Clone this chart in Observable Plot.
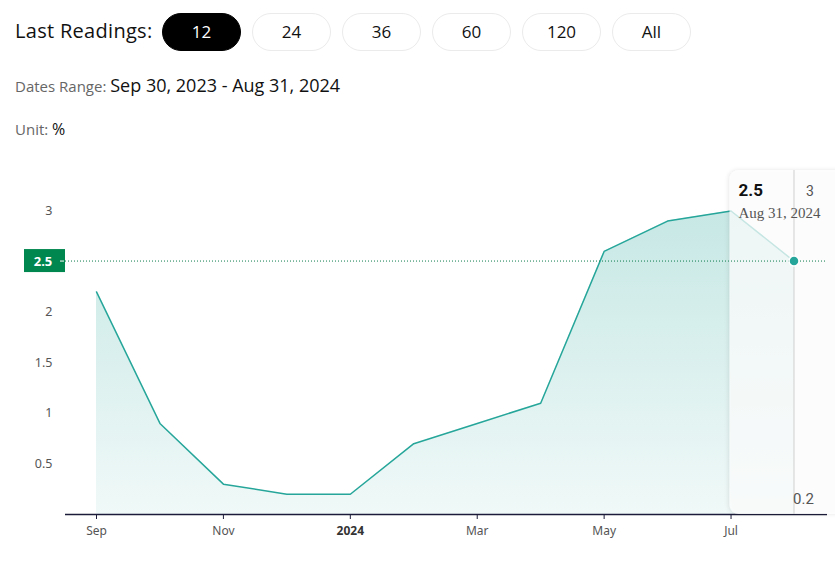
<!DOCTYPE html>
<html>
<head>
<meta charset="utf-8">
<script src="https://cdn.jsdelivr.net/npm/d3@7"></script>
<script src="https://cdn.jsdelivr.net/npm/@observablehq/plot@0.6"></script>
<style>
  body { margin:0; background:#fff; font-family: "Open Sans", Roboto, sans-serif; width:835px; height:573px; overflow:hidden; position:relative; }
  .hdr { position:absolute; left:15px; top:17px; font-size:20px; letter-spacing:0.3px; color:#111; }
  .btn { position:absolute; top:13px; width:77px; height:36px; border:1px solid #ebebeb; border-radius:19px; text-align:center; line-height:36px; font-size:17px; color:#111; box-sizing:content-box; }
  .btn.active { background:#000; color:#fff; border-color:#000; }
  .lbl { color:#666; font-size:15px; }
  .val { color:#111; font-size:18px; }
  #chart { position:absolute; left:0; top:150px; }
</style>
</head>
<body>
<div class="hdr">Last Readings:</div>
<div id="btns"></div>
<div style="position:absolute;left:15px;top:73px;"><span class="lbl">Dates Range: </span><span class="val">Sep 30, 2023 - Aug 31, 2024</span></div>
<div style="position:absolute;left:15px;top:118px;"><span class="lbl">Unit: </span><span class="val" style="font-size:16px">%</span></div>
<div id="chart"></div>
<script>
const buttons = ["12", "24", "36", "60", "120", "All"];
const dates = ["2023-09-30","2023-10-31","2023-11-30","2023-12-31","2024-01-31","2024-02-29","2024-03-31","2024-04-30","2024-05-31","2024-06-30","2024-07-31","2024-08-31"];
const values = [2.2, 0.9, 0.3, 0.2, 0.2, 0.7, 0.9, 1.1, 2.6, 2.9, 3.0, 2.5];
const tickDates = ["2023-09-30","2023-11-30","2024-01-31","2024-03-31","2024-05-31","2024-07-31"];
const tickLabels = ["Sep","Nov","2024","Mar","May","Jul"];
const yTicks = [0.5, 1, 1.5, 2, 3];
const current = {date: "2024-08-31", value: 2.5, label: "Aug 31, 2024"};
const rangeLabels = {max: "3", min: "0.2"};

const btnBox = document.getElementById("btns");
buttons.forEach((b, i) => {
  const d = document.createElement("div");
  d.className = "btn" + (i === 0 ? " active" : "");
  d.style.left = (162 + i * 90) + "px";
  d.textContent = b;
  btnBox.appendChild(d);
});

const data = dates.map((d, i) => ({date: d, value: values[i]}));
const teal = "#26a69a";

const plot = Plot.plot({
  width: 835,
  height: 423,
  marginTop: 20,
  marginBottom: 59,
  marginLeft: 65,
  marginRight: 8,
  style: {fontFamily: "'Noto Sans', sans-serif", fontSize: "12px", color: "#555", background: "transparent"},
  x: {type: "point", domain: dates, padding: 0, round: false, insetLeft: 31, insetRight: 33, label: null},
  y: {domain: [0, 3.4], label: null},
  marks: [
    Plot.areaY(data, {x: "date", y: "value", fill: "url(#areaGrad)"}),
    Plot.lineY(data, {x: "date", y: "value", stroke: teal, strokeWidth: 1.5}),
    Plot.ruleY([0], {stroke: "#1c1c3a", strokeWidth: 1.5}),
    Plot.axisX({ticks: tickDates, tickFormat: d => tickLabels[tickDates.indexOf(d)], tickSize: 5, tickPadding: 7, stroke: "#1c1c3a", fill: "#555", fontSize: 12, label: null}),
    Plot.axisY({ticks: yTicks, tickFormat: d => String(d), tickSize: 0, tickPadding: 13, fill: "#555", fontSize: 12.5, label: null})
  ]
});
document.getElementById("chart").appendChild(plot);

const svg = d3.select(plot);
const xs = plot.scale("x"), ys = plot.scale("y");
const defs = svg.insert("defs", ":first-child");
const g = defs.append("linearGradient").attr("id", "areaGrad").attr("x1", 0).attr("y1", 0).attr("x2", 0).attr("y2", 1);
g.append("stop").attr("offset", "0%").attr("stop-color", teal).attr("stop-opacity", 0.26);
g.append("stop").attr("offset", "100%").attr("stop-color", teal).attr("stop-opacity", 0.07);
const f = defs.append("filter").attr("id", "shadow").attr("x", "-20%").attr("y", "-10%").attr("width", "140%").attr("height", "120%");
f.append("feDropShadow").attr("dx", -1).attr("dy", 0).attr("stdDeviation", 2).attr("flood-color", "#000").attr("flood-opacity", 0.14);

svg.selectAll("text").filter(function() { return this.textContent === "2024"; }).attr("font-weight", "bold").attr("fill", "#333");

const xCur = xs.apply(current.date);
const xPrev = xs.apply(dates[dates.length - 2]);
const yTop = ys.apply(3.4), yBase = ys.apply(0), yCur = ys.apply(current.value);
const over = svg.append("g").attr("text-anchor", "start");
over.append("rect").attr("x", xPrev - 1).attr("y", yTop).attr("width", 200).attr("height", yBase - yTop)
  .attr("rx", 9).attr("fill", "#fff").attr("fill-opacity", 0.72).attr("filter", "url(#shadow)");
over.append("line").attr("x1", xCur).attr("x2", xCur).attr("y1", yTop).attr("y2", yBase).attr("stroke", "#cfcfcf");
over.append("line").attr("x1", 65).attr("x2", 827).attr("y1", yCur).attr("y2", yCur)
  .attr("stroke", "#0b7a4b").attr("stroke-dasharray", "1,2");
over.append("rect").attr("x", 24).attr("y", yCur - 12).attr("width", 41).attr("height", 23).attr("fill", "#00874f");
over.append("text").attr("x", 43).attr("y", yCur + 5).attr("text-anchor", "middle").attr("fill", "#fff")
  .attr("font-size", 13).attr("font-weight", "bold").text(current.value);
over.append("line").attr("x1", 60).attr("x2", 64).attr("y1", yCur).attr("y2", yCur).attr("stroke", "#fff");
over.append("circle").attr("cx", xCur).attr("cy", yCur).attr("r", 5).attr("fill", teal).attr("stroke", "#fff").attr("stroke-width", 1.5);
over.append("text").attr("x", xPrev + 8).attr("y", yTop + 26).attr("font-size", 17).attr("font-weight", "bold")
  .attr("fill", "#111").attr("font-family", "Roboto, sans-serif").text(current.value);
over.append("text").attr("x", xPrev + 8).attr("y", yTop + 48).attr("font-size", 15).attr("fill", "#555")
  .attr("font-family", "'Liberation Serif', serif").text(current.label);
over.append("text").attr("x", xCur + 12).attr("y", yTop + 26).attr("font-size", 14).attr("fill", "#555")
  .attr("font-family", "Roboto, sans-serif").text(rangeLabels.max);
over.append("text").attr("x", xCur - 1).attr("y", yBase - 10).attr("font-size", 15).attr("fill", "#555")
  .attr("font-family", "Roboto, sans-serif").text(rangeLabels.min);
</script>
</body>
</html>
